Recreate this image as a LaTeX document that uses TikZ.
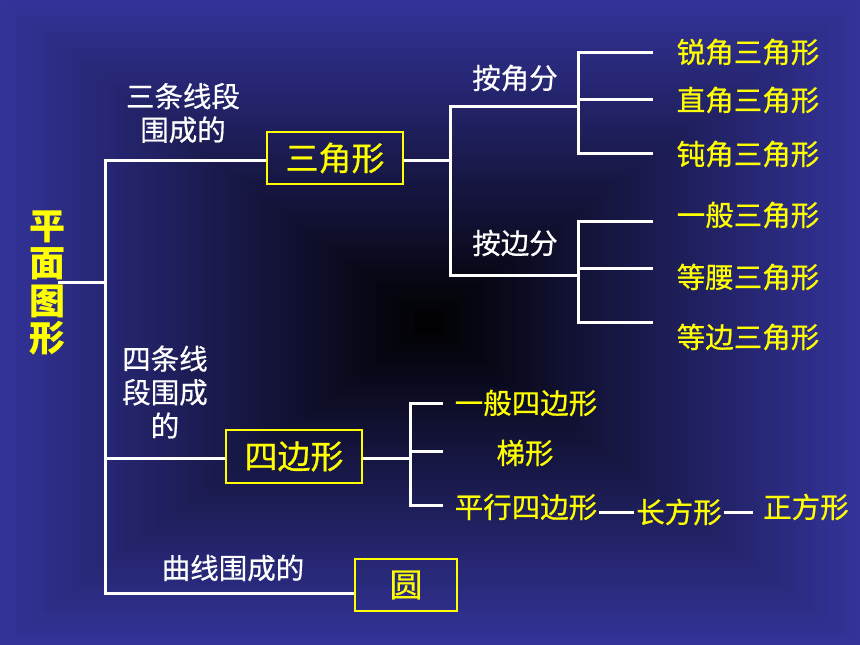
\documentclass[tikz,border=0pt]{standalone}
\usepackage{fontspec}
\newfontfamily\cjk[FakeBold=0.6]{Noto Sans CJK SC}
\newfontfamily\cjkb{Noto Sans CJK SC}
\definecolor{slideblue}{RGB}{51,51,153}
\definecolor{ylw}{RGB}{255,255,0}
\tikzset{
  ln/.style={white, line width=3pt},
  lab/.style={text=ylw, font=\cjk\fontsize{28.5}{34}\selectfont, inner sep=2pt},
  wlab/.style={text=white, align=center, font=\cjk\fontsize{28.5}{33.5}\selectfont, inner sep=0pt},
  boxnode/.style={draw=ylw, line width=2.5pt, text=ylw, minimum width=136pt, minimum height=52pt, inner sep=0pt, font=\cjk\fontsize{33}{40}\selectfont},
  rootlab/.style={text=ylw, align=center, font=\cjkb\bfseries\fontsize{36}{37.5}\selectfont, inner sep=0pt}
}
\begin{document}
\begin{tikzpicture}[x=1pt,y=-1pt]
\useasboundingbox (0,0) rectangle (860,645);
% background: rectangular gradient
\fill[slideblue] (0,0) rectangle (860,645);
\foreach \i in {80,...,1}{
  \pgfmathsetmacro{\p}{1.25*\i}
  \pgfmathsetmacro{\hx}{5.375*\i}
  \pgfmathsetmacro{\hy}{4.03125*\i}
  \fill[slideblue!\p!black] ({430-\hx},{322.5-\hy}) rectangle ({430+\hx},{322.5+\hy});
}
% root
\node[rootlab] (root) at (47,283) {平\\面\\图\\形};
\coordinate (r0) at (58,282);
\coordinate (j0) at (105,282);
\coordinate (t1) at (105,160);
\coordinate (t2) at (105,458);
\coordinate (t3) at (105,593);
% boxes
\node[boxnode] (tri) at (335,158) {三角形};
\node[boxnode, minimum height=53pt] (quad) at (294,456.5) {四边形};
\node[boxnode, minimum width=102pt] (cir) at (406,585) {圆};
% white labels
\node[wlab] (w1) at (183,113) {三条线段\\围成的};
\node[wlab] (w2) at (165,392) {四条线\\段围成\\的};
\node[wlab] (w3) at (233,568) {曲线围成的};
\node[wlab] (w4) at (515,78) {按角分};
\node[wlab] (w5) at (515,243) {按边分};
% trunk
\draw[ln] (r0) -- (j0);
\draw[ln] (tri.west |- t1) -- (t1) -- (t3) -- (cir.west |- t3);
\draw[ln] (t2) -- (quad.west |- t2);
% triangle branch
\coordinate (c1) at (450,160);
\coordinate (c2) at (450,106);
\coordinate (c3) at (578,106);
\coordinate (c4) at (450,275);
\coordinate (c5) at (578,275);
\draw[ln] (tri.east |- c1) -- (c1);
\draw[ln] (c3) -- (c2) -- (c4) -- (c5);
\coordinate (e1) at (653,52);
\coordinate (e2) at (653,99);
\coordinate (e3) at (653,153);
\coordinate (f1) at (653,221);
\coordinate (f2) at (653,268);
\coordinate (f3) at (653,322);
\draw[ln] (e1) -| (c3) |- (e3);
\draw[ln] (c3 |- e2) -- (e2);
\draw[ln] (f1) -| (c5) |- (f3);
\draw[ln] (c5 |- f2) -- (f2);
\node[lab] (a1) at (748,52) {锐角三角形};
\node[lab] (a2) at (748,100) {直角三角形};
\node[lab] (a3) at (748,154) {钝角三角形};
\node[lab] (b1) at (748,215) {一般三角形};
\node[lab] (b2) at (748,277) {等腰三角形};
\node[lab] (b3) at (748,337) {等边三角形};
% quadrilateral branch
\coordinate (q0) at (410,458);
\coordinate (g1) at (443,403);
\coordinate (g2) at (443,451);
\coordinate (g3) at (443,505);
\draw[ln] (quad.east |- q0) -- (q0);
\draw[ln] (g1) -| (q0) |- (g3);
\draw[ln] (q0 |- g2) -- (g2);
\node[lab] (d1) at (526,403) {一般四边形};
\node[lab] (d2) at (525,453) {梯形};
\node[lab] (d3) at (526,507) {平行四边形};
\node[lab] (d4) at (679,512) {长方形};
\node[lab] (d5) at (806,507) {正方形};
\draw[ln] (d3.east |- d4.west) -- (d4.west);
\draw[ln, shorten >=8pt] (d4.east) -- (d4.east -| d5.west);
\end{tikzpicture}
\end{document}
